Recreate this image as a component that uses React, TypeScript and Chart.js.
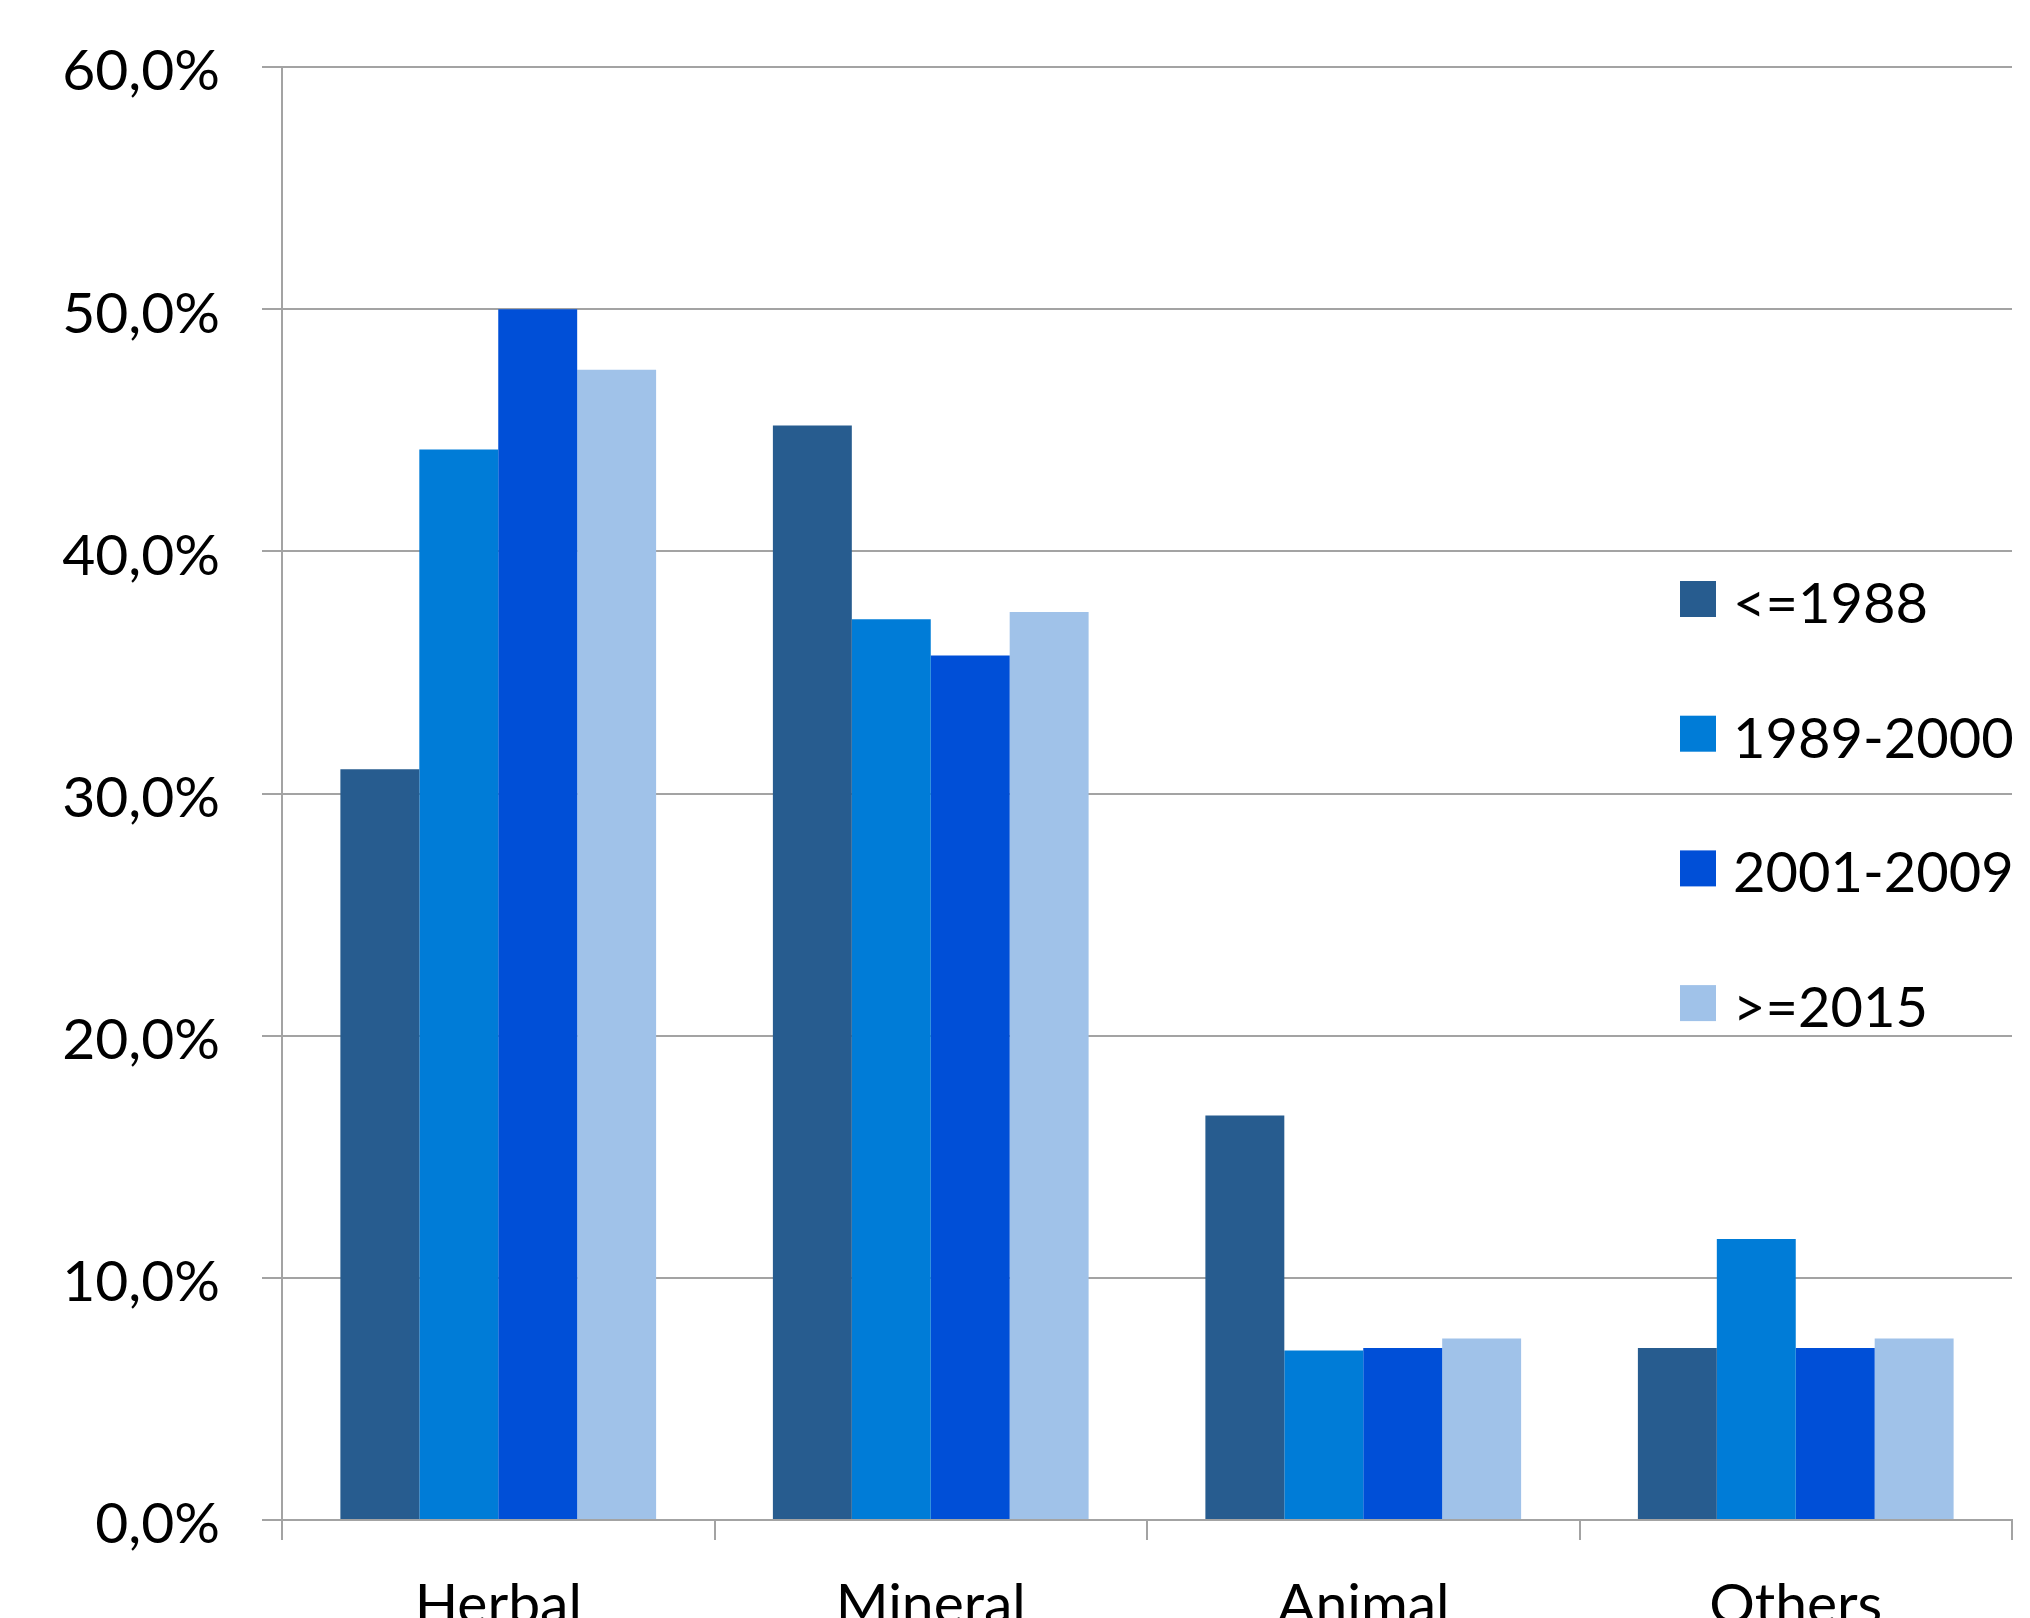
import React, { useEffect, useRef } from "react";
import { Chart, registerables } from "chart.js";

Chart.register(...registerables);

const categories = ["Herbal", "Mineral", "Animal", "Others"];
const seriesLabels = ["<=1988", "1989-2000", "2001-2009", ">=2015"];
const seriesColors = ["#275C8F", "#007CD7", "#004FD7", "#A0C2E9"];
const values1988 = [31.0, 45.2, 16.7, 7.1];
const values1989to2000 = [44.2, 37.2, 7.0, 11.6];
const values2001to2009 = [50.0, 35.7, 7.1, 7.1];
const values2015 = [47.5, 37.5, 7.5, 7.5];
const yTicks = [0, 10, 20, 30, 40, 50, 60];

const FONT = "Lato, 'Open Sans', sans-serif";
const GRID = "#a3a3a3";

const insideLegend = {
  id: "insideLegend",
  afterDraw(chart: any) {
    const ctx = chart.ctx;
    const area = chart.chartArea;
    ctx.save();
    ctx.font = `56px ${FONT}`;
    ctx.textBaseline = "alphabetic";
    ctx.textAlign = "left";
    chart.data.datasets.forEach((d: any, i: number) => {
      const cy = 599 + i * 134.7;
      const bx = area.right - 332;
      ctx.fillStyle = d.backgroundColor;
      ctx.fillRect(bx, cy - 18, 36, 36);
      ctx.fillStyle = "#000";
      ctx.fillText(d.label, bx + 53, cy + 24);
    });
    ctx.restore();
  },
};

export default function App() {
  const ref = useRef<HTMLCanvasElement | null>(null);
  useEffect(() => {
    if (!ref.current) return;
    const seriesData = [values1988, values1989to2000, values2001to2009, values2015];
    const chart = new Chart(ref.current, {
      type: "bar",
      data: {
        labels: categories,
        datasets: seriesLabels.map((label, i) => ({
          label,
          data: seriesData[i],
          backgroundColor: seriesColors[i],
          borderWidth: 0,
          categoryPercentage: 0.73,
          barPercentage: 1.0,
        })),
      },
      options: {
        animation: false,
        responsive: false,
        devicePixelRatio: 1,
        layout: { padding: { left: 0, right: 18, top: 67, bottom: 0 } },
        plugins: {
          legend: { display: false },
          tooltip: { enabled: false },
        },
        scales: {
          x: {
            grid: {
              offset: true,
              drawOnChartArea: false,
              drawTicks: true,
              tickLength: 20,
              color: GRID,
              lineWidth: 2,
            },
            border: { display: true, color: GRID, width: 2 },
            ticks: {
              color: "#000",
              font: { family: FONT, size: 57 },
              padding: 31,
              maxRotation: 0,
            },
            afterFit(scale: any) {
              scale.height = 98;
              scale.paddingLeft = 0;
              scale.paddingRight = 0;
            },
          },
          y: {
            min: 0,
            max: 60,
            afterBuildTicks(scale: any) {
              scale.ticks = yTicks.map((v) => ({ value: v }));
            },
            grid: {
              drawTicks: true,
              tickLength: 20,
              color: GRID,
              lineWidth: 2,
            },
            border: { display: true, color: GRID, width: 2 },
            ticks: {
              color: "#000",
              font: { family: FONT, size: 57 },
              padding: 42,
              labelOffset: 5,
              callback: (v: any) => Number(v).toFixed(1).replace(".", ",") + "%",
            },
            afterFit(scale: any) {
              scale.width = 282;
              scale.paddingTop = 0;
              scale.paddingBottom = 0;
            },
          },
        },
      },
      plugins: [insideLegend],
    });
    return () => chart.destroy();
  }, []);
  return (
    <div style={{ position: "absolute", left: 0, top: 0, width: 2030, height: 1618, background: "#fff" }}>
      <canvas ref={ref} width={2030} height={1618} style={{ display: "block" }} />
    </div>
  );
}
